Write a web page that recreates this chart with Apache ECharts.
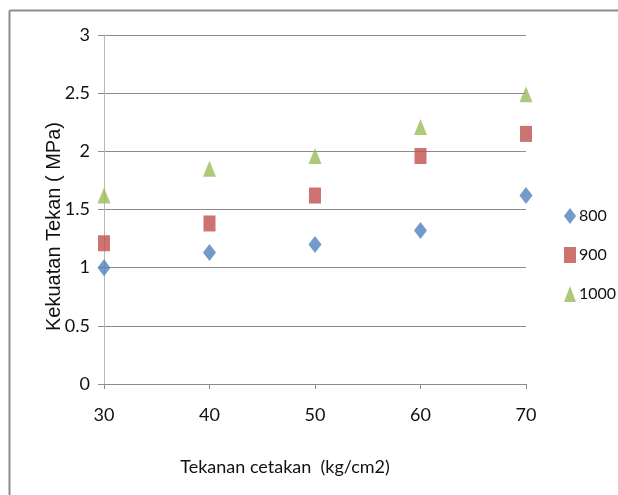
<!DOCTYPE html>
<html>
<head>
<meta charset="utf-8">
<script src="https://cdn.jsdelivr.net/npm/echarts@6/dist/echarts.min.js"></script>
<style>html,body{margin:0;padding:0;background:#fff;}#c{width:618px;height:495px;}</style>
</head>
<body>
<div id="c"></div>
<script>
const xValues = [30, 40, 50, 60, 70];
const s800 = [1.00, 1.13, 1.20, 1.32, 1.62];
const s900 = [1.21, 1.38, 1.62, 1.96, 2.15];
const s1000 = [1.62, 1.85, 1.96, 2.21, 2.49];
const seriesNames = ['800', '900', '1000'];

const pair = arr => xValues.map((x, i) => [x, arr[i]]);
const font = 'Lato, sans-serif';
const chart = echarts.init(document.getElementById('c'));
chart.setOption({
  animation: false,
  backgroundColor: '#fff',
  graphic: [
    {type: 'line', shape: {x1: 9.5, y1: 10.5, x2: 618, y2: 10.5}, style: {stroke: '#8c8c8c', lineWidth: 2}},
    {type: 'line', shape: {x1: 9.5, y1: 10.5, x2: 9.5, y2: 495}, style: {stroke: '#8c8c8c', lineWidth: 2}}
  ],
  grid: {left: 104, right: 92, top: 35, bottom: 111},
  legend: {
    orient: 'vertical', left: 559, top: 203, itemGap: 23,
    itemWidth: 12, itemHeight: 16,
    textStyle: {fontFamily: font, fontSize: 16, color: '#111', padding: [0, 0, 0, -2]},
    data: seriesNames
  },
  xAxis: {
    type: 'value', min: 30, max: 70, interval: 10,
    name: 'Tekanan cetakan  (kg/cm2)', nameLocation: 'middle', nameGap: 74,
    nameMoveOverlap: false,
    nameTextStyle: {fontFamily: font, fontSize: 18, color: '#111', padding: [0, 60, 0, 0]},
    axisLine: {show: true, lineStyle: {color: '#8c8c8c', width: 1}},
    axisTick: {show: true, length: 5, inside: false, lineStyle: {color: '#8c8c8c'}},
    axisLabel: {fontFamily: font, fontSize: 18, color: '#111', margin: 22},
    splitLine: {show: false}
  },
  yAxis: {
    type: 'value', min: 0, max: 3, interval: 0.5,
    name: 'Kekuatan Tekan ( MPa)', nameLocation: 'middle', nameGap: 40,
    nameMoveOverlap: false,
    nameTextStyle: {fontFamily: '"Liberation Sans", sans-serif', fontSize: 20, color: '#111', padding: [0, 34, 0, 0]},
    axisLine: {show: true, lineStyle: {color: '#b8b8b8', width: 1}},
    axisTick: {show: true, length: 6, lineStyle: {color: '#8c8c8c'}},
    axisLabel: {fontFamily: font, fontSize: 18, color: '#111', margin: 14},
    splitLine: {show: true, lineStyle: {color: '#8c8c8c', width: 1}}
  },
  series: [
    {name: '800', type: 'scatter', data: pair(s800), symbol: 'diamond', symbolSize: [13, 17],
     itemStyle: {color: '#4F81BD'}},
    {name: '900', type: 'scatter', data: pair(s900), symbol: 'rect', symbolSize: [12, 16],
     itemStyle: {color: '#C0504D'}},
    {name: '1000', type: 'scatter', data: pair(s1000), symbol: 'triangle', symbolSize: [13, 16],
     itemStyle: {color: '#9BBB59'}}
  ]
});
</script>
</body>
</html>
